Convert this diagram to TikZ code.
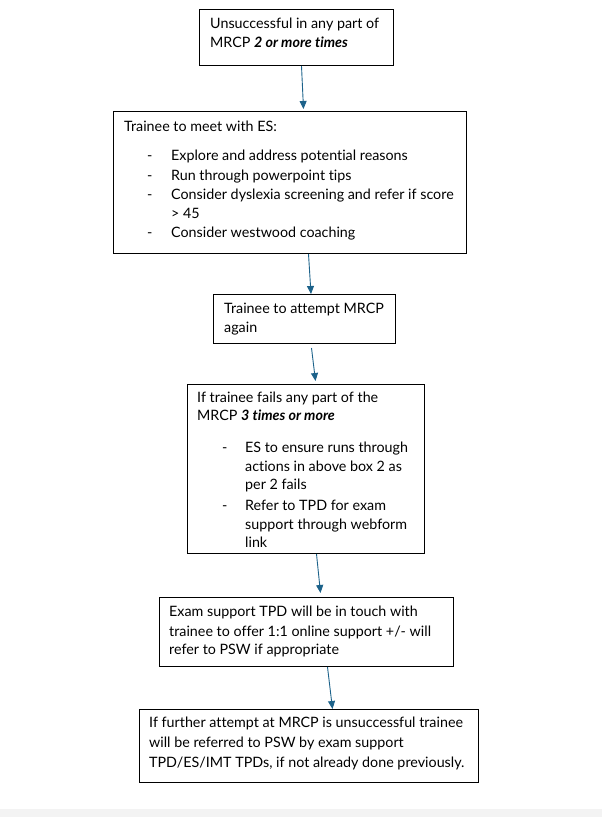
\documentclass[tikz,border=0pt]{standalone}
\usepackage{fontspec}
\setmainfont{Lato}[Ligatures=NoCommon]
\usetikzlibrary{arrows.meta}
\definecolor{arrowblue}{RGB}{28,98,138}
\definecolor{stripgray}{RGB}{243,243,243}
\begin{document}
\begin{tikzpicture}[x=1pt,y=-1pt,
  box/.style={draw=black,line width=1pt,inner sep=0pt,anchor=north west},
  txt/.style={anchor=base west,inner sep=0pt,font=\fontsize{14.3}{17}\selectfont},
  conn/.style={draw=arrowblue,line width=0.9pt,-{Triangle[width=7pt,length=8pt]}}]
\useasboundingbox (0,0) rectangle (602,817);
\fill[stripgray] (0,809) rectangle (602,817);
% boxes
\node[box,minimum width=194pt,minimum height=56pt] (b1) at (199,9) {};
\node[box,minimum width=353pt,minimum height=142pt] (b2) at (113,111) {};
\node[box,minimum width=182pt,minimum height=49pt] (b3) at (213,294) {};
\node[box,minimum width=237pt,minimum height=169pt] (b4) at (187,384) {};
\node[box,minimum width=294pt,minimum height=69pt] (b5) at (159,597) {};
\node[box,minimum width=339pt,minimum height=73pt] (b6) at (139,709) {};
% box 1 text
\node[txt] (t1a) at (210,28) {Unsuccessful in any part of};
\node[txt] (t1b) at (210,47) {MRCP \textbf{\textit{2 or more times}}};
% box 2 text
\node[txt] (t2a) at (124,131) {Trainee to meet with ES:};
\node[txt] (d2a) at (147,160) {-};
\node[txt] (t2b) at (171,160) {Explore and address potential reasons};
\node[txt] (d2b) at (147,180) {-};
\node[txt] (t2c) at (171,180) {Run through powerpoint tips};
\node[txt] (d2c) at (147,199) {-};
\node[txt] (t2d) at (171,199) {Consider dyslexia screening and refer if score};
\node[txt] (t2e) at (171,218) {> 45};
\node[txt] (d2d) at (147,237) {-};
\node[txt] (t2f) at (171,237) {Consider westwood coaching};
% box 3 text
\node[txt] (t3a) at (224,313) {Trainee to attempt MRCP};
\node[txt] (t3b) at (224,332) {again};
% box 4 text
\node[txt] (t4a) at (197,402) {If trainee fails any part of the};
\node[txt] (t4b) at (197,420) {MRCP \textbf{\textit{3 times or more}}};
\node[txt] (d4a) at (222,452) {-};
\node[txt] (t4c) at (245,452) {ES to ensure runs through};
\node[txt] (t4d) at (245,471) {actions in above box 2 as};
\node[txt] (t4e) at (245,489) {per 2 fails};
\node[txt] (d4b) at (222,510) {-};
\node[txt] (t4f) at (245,510) {Refer to TPD for exam};
\node[txt] (t4g) at (245,529) {support through webform};
\node[txt] (t4h) at (245,547) {link};
% box 5 text
\node[txt] (t5a) at (169,616) {Exam support TPD will be in touch with};
\node[txt] (t5b) at (169,636) {trainee to offer 1:1 online support +/- will};
\node[txt] (t5c) at (169,654) {refer to PSW if appropriate};
% box 6 text
\node[txt] (t6a) at (149,727) {If further attempt at MRCP is unsuccessful trainee};
\node[txt] (t6b) at (149,747) {will be referred to PSW by exam support};
\node[txt] (t6c) at (149,767) {TPD/ES/IMT TPDs, if not already done previously.};
% connectors
\draw[conn] ([xshift=5pt]b1.south) -- ([xshift=13.5pt,yshift=2pt]b2.north);
\draw[conn] ([xshift=18.5pt]b2.south) -- ([xshift=6.5pt]b3.north);
\draw[conn] ([xshift=7pt,yshift=-4pt]b3.south) -- ([xshift=9.5pt,yshift=3pt]b4.north);
\draw[conn] ([xshift=10.5pt]b4.south) -- ([xshift=14pt,yshift=4pt]b5.north);
\draw[conn] ([xshift=21pt]b5.south) -- ([xshift=23.5pt]b6.north);
\end{tikzpicture}
\end{document}
